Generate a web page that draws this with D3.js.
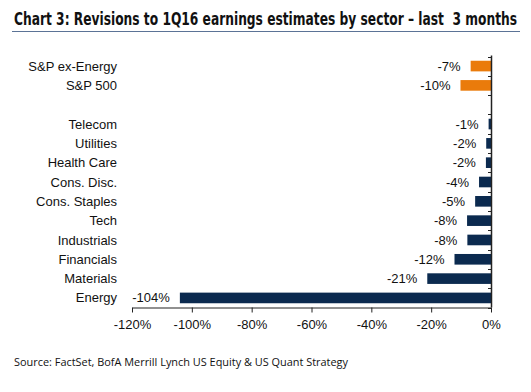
<!DOCTYPE html>
<html>
<head>
<meta charset="utf-8">
<script src="https://cdn.jsdelivr.net/npm/d3@7"></script>
<style>
  body { margin: 0; background: #fff; }
  text { font-family: "Liberation Sans", Arial, sans-serif; }
</style>
</head>
<body>
<script>
// categories, top to bottom ("" is the empty gap row)
var categories = ['S&P ex-Energy', 'S&P 500', '', 'Telecom', 'Utilities', 'Health Care',
  'Cons. Disc.', 'Cons. Staples', 'Tech', 'Industrials', 'Financials', 'Materials', 'Energy'];
var values = [-7, -10, null, -1, -2, -2, -4, -5, -8, -8, -12, -21, -104];
// shown bar lengths (labels are rounded)
var barValues = [-6.8, -10.2, null, -0.8, -1.6, -1.7, -4.0, -5.3, -8.0, -7.9, -12.2, -21.3, -104.0];
var isIndex = [true, true, false, false, false, false, false, false, false, false, false, false, false];
var xTicks = [-120, -100, -80, -60, -40, -20, 0];

var W = 531, H = 392;
var svg = d3.select('body').append('svg')
  .attr('width', W)
  .attr('height', H);

// title
svg.append('text')
  .attr('x', 14)
  .attr('y', 25)
  .attr('textLength', 503)
  .attr('lengthAdjust', 'spacingAndGlyphs')
  .style('font-family', '"Liberation Sans Narrow", "DejaVu Sans Condensed", sans-serif')
  .style('font-weight', 'bold')
  .style('font-size', '17px')
  .style('fill', '#111')
  .text('Chart 3: Revisions to 1Q16 earnings estimates by sector \u2013 last  3 months')
  .attr('xml:space', 'preserve');

svg.append('line')
  .attr('x1', 12).attr('x2', 520)
  .attr('y1', 31.5).attr('y2', 31.5)
  .style('stroke', '#5b7396')
  .style('stroke-width', 1);

var x = d3.scaleLinear().domain([-120, 0]).range([132, 491]);
var y = d3.scaleBand().domain(d3.range(categories.length)).range([56.5, 307.5]).paddingInner(0.45).paddingOuter(0.22);

var rows = categories.map(function(c, i) {
  return { name: c, value: values[i], bar: barValues[i], index: isIndex[i], i: i };
});

// bars
svg.append('g').selectAll('rect')
  .data(rows.filter(function(d) { return d.bar !== null; }))
  .enter().append('rect')
  .attr('x', function(d) { return x(d.bar); })
  .attr('width', function(d) { return x(0) - x(d.bar); })
  .attr('y', function(d) { return y(d.i); })
  .attr('height', y.bandwidth())
  .style('fill', function(d) { return d.index ? '#ea7b0b' : '#0b2a4f'; });

// value labels
svg.append('g').selectAll('text')
  .data(rows.filter(function(d) { return d.value !== null; }))
  .enter().append('text')
  .attr('x', function(d) { return x(d.bar) - 10; })
  .attr('y', function(d) { return y(d.i) + y.bandwidth() / 2; })
  .attr('dy', '0.35em')
  .attr('text-anchor', 'end')
  .style('font-size', '13px')
  .style('fill', '#111')
  .text(function(d) { return d.value + '%'; });

// category labels
svg.append('g').selectAll('text')
  .data(rows)
  .enter().append('text')
  .attr('x', 117)
  .attr('y', function(d) { return y(d.i) + y.bandwidth() / 2; })
  .attr('dy', '0.35em')
  .attr('text-anchor', 'end')
  .style('font-size', '13px')
  .style('fill', '#111')
  .text(function(d) { return d.name; });

// y axis line with ticks between rows
var step = y.step();
var yTop = 56.5, yBot = 307.5;
var yAxis = svg.append('g');
yAxis.append('line')
  .attr('x1', x(0) + 0.5).attr('x2', x(0) + 0.5)
  .attr('y1', yTop - 1).attr('y2', yBot)
  .style('stroke', '#222').style('stroke-width', 1.5);
yAxis.selectAll('.yt')
  .data(d3.range(categories.length + 1))
  .enter().append('line')
  .attr('class', 'yt')
  .attr('x1', x(0) - 3).attr('x2', x(0))
  .attr('y1', function(k) { return Math.round(yTop + k * (yBot - yTop) / categories.length) + 0.5; })
  .attr('y2', function(k) { return Math.round(yTop + k * (yBot - yTop) / categories.length) + 0.5; })
  .style('stroke', '#222');

// x axis
var xAxis = svg.append('g')
  .attr('transform', 'translate(0,' + yBot + ')')
  .call(d3.axisBottom(x).tickValues(xTicks).tickSize(5).tickSizeOuter(0)
    .tickFormat(function(d) { return d + '%'; }));
xAxis.select('.domain').style('stroke', '#222').style('stroke-width', 1.2);
xAxis.selectAll('.tick line').style('stroke', '#222');
xAxis.selectAll('.tick text')
  .attr('y', 12)
  .style('font-size', '13px')
  .style('font-family', '"Liberation Sans", Arial, sans-serif')
  .style('fill', '#111');

// source
svg.append('text')
  .attr('x', 14)
  .attr('y', 366)
  .attr('textLength', 334)
  .attr('lengthAdjust', 'spacingAndGlyphs')
  .style('font-family', '"Open Sans", sans-serif')
  .style('font-size', '11px')
  .style('fill', '#111')
  .text('Source: FactSet, BofA Merrill Lynch US Equity & US Quant Strategy');
</script>
</body>
</html>
